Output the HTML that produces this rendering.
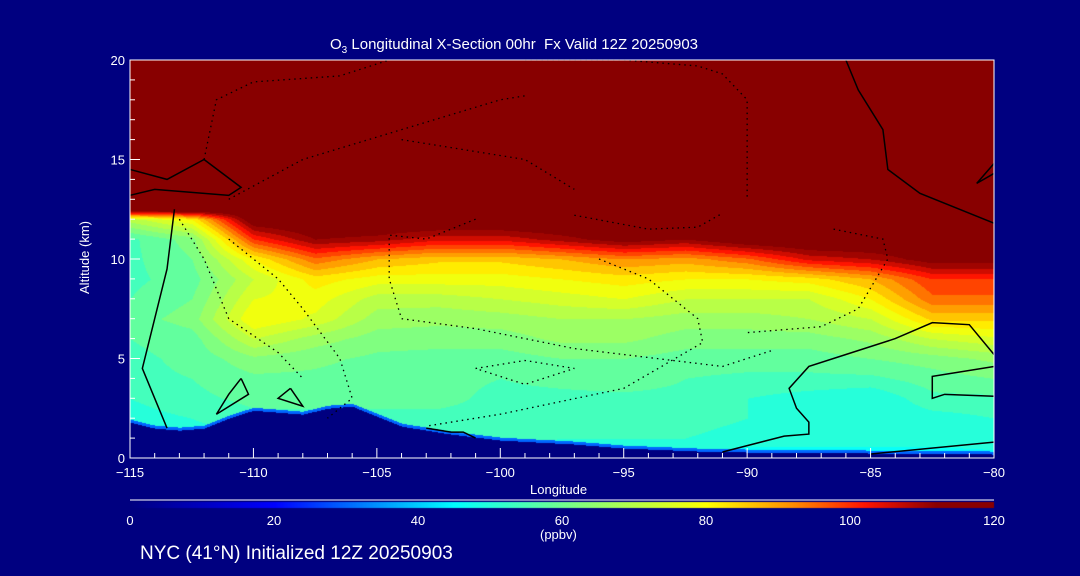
<!DOCTYPE html>
<html><head><meta charset="utf-8">
<style>
html,body{margin:0;padding:0;background:#000080;}
body{width:1080px;height:576px;position:relative;overflow:hidden;font-family:"Liberation Sans",sans-serif;color:#fff;}
.t{position:absolute;white-space:nowrap;font-size:14px;}
</style></head><body>
<div class="t" style="left:330px;top:36px;font-size:15px;">O<sub style="font-size:10px">3</sub> Longitudinal X-Section 00hr&nbsp; Fx Valid 12Z 20250903</div>
<canvas id="cv" width="1080" height="576" style="position:absolute;left:0;top:0"></canvas>
<svg id="sv" width="1080" height="576" style="position:absolute;left:0;top:0"></svg>
<div class="t" style="left:530px;top:482px;font-size:13px;">Longitude</div>
<div class="t" style="left:48px;top:250px;font-size:13px;transform:rotate(-90deg);transform-origin:center;">Altitude (km)</div>
<div class="t" style="left:540px;top:527px;font-size:13px;">(ppbv)</div>
<div class="t" style="left:140px;top:543px;font-size:19px;">NYC (41°N) Initialized 12Z 20250903</div>
<script>
const lons=[-115,-112.5,-110,-107.5,-105,-102.5,-100,-97.5,-95,-92.5,-90,-87.5,-85,-82.5,-80];
const alts=[0,1,2,3,4,5,6,7,8,9,10,11,12,12.5,20];
const o3=[
[48,50,50,50,50,50,50,50,48,48,45,45,45,45,45],
[50,50,50,50,52,53,53,52,52,52,50,50,50,50,52],
[50,52,55,55,55,55,55,54,54,54,52,50,48,50,52],
[52,55,57,57,57,57,55,55,55,55,52,50,48,55,55],
[55,56,59,59,58,57,56,57,58,56,55,55,55,58,60],
[55,57,63,61,59,58,58,60,60,58,58,58,60,62,65],
[56,58,72,66,62,62,62,65,65,62,62,62,65,72,75],
[58,62,80,75,66,65,66,68,68,66,66,68,72,85,85],
[56,60,76,78,70,70,72,74,76,72,72,72,80,95,95],
[55,58,72,82,78,78,78,80,82,80,80,82,88,100,100],
[55,60,80,95,88,85,85,88,92,90,95,105,108,115,115],
[55,62,100,112,110,105,105,110,115,112,118,120,120,120,120],
[70,80,118,120,120,120,120,120,120,120,120,120,120,120,120],
[120,120,120,120,120,120,120,120,120,120,120,120,120,120,120],
[120,120,120,120,120,120,120,120,120,120,120,120,120,120,120]];
const terrLon=[-115,-114,-113,-112,-111,-110,-109,-108,-107,-106,-105,-104,-103,-102,-100,-97,-95,-92,-90,-85,-80];
const terrAlt=[1.8,1.5,1.4,1.5,2.0,2.4,2.3,2.2,2.5,2.6,2.1,1.6,1.4,1.2,0.9,0.7,0.5,0.35,0.3,0.25,0.2];
const xTicks=[-115,-110,-105,-100,-95,-90,-85,-80];
const yTicks=[0,5,10,15,20];
const cbTicks=[0,20,40,60,80,100,120];
const solid0=[[[-91,0.3],[-88.5,1.1],[-87.5,1.2],[-87.5,1.8],[-88,2.5],[-88.3,3.5],[-87.5,4.6],[-86,5.2],[-84,6.0],[-82.5,6.8],[-81,6.7],[-80,5.2]],
[[-80,3.1],[-82,3.2],[-82.5,3.0],[-82.5,4.1],[-80,4.6]],
[[-85,0.2],[-80,0.8]],
[[-86,20],[-85.5,18.5],[-84.5,16.5],[-84.3,14.5],[-83,13.3],[-80,11.8]],
[[-80,14.3],[-80.7,13.8],[-80,14.8]],
[[-115,14.5],[-113.5,14],[-112,15],[-110.5,13.6],[-111,13.2],[-114,13.5],[-115,13.2]],
[[-113.2,12.5],[-113.5,9.5],[-114,7],[-114.5,4.5],[-114,3],[-113.5,1.5]],
[[-110.5,4.0],[-111,3.2],[-111.5,2.2],[-110.2,3.2],[-110.5,4.0]],
[[-108.5,3.5],[-109,3.0],[-108,2.6],[-108.5,3.5]],
[[-103,1.5],[-102,1.3],[-101.5,1.3],[-101,1.0]]];
const dotted=[[[-112,15],[-111.5,18],[-110,18.9],[-106.5,19.2],[-104.5,20]],
[[-99,20],[-95,20],[-92,19.7],[-91,19.3],[-90,18],[-90,13]],
[[-111,13],[-108,15],[-104,16.5],[-100,18],[-99,18.2]],
[[-104,16],[-99,15],[-97,13.5]],
[[-101,12],[-103,11],[-104.5,11.2],[-104.5,9],[-104,7],[-101,6.5],[-97,5.5],[-91,4.6],[-89,5.4]],
[[-111,11],[-109,9],[-108,7.5],[-106.5,5],[-106,3],[-107,2]],
[[-113,12],[-112,10],[-111,7],[-109,5.3],[-108,4]],
[[-96,10],[-94,9],[-92,7],[-91.8,5.8],[-95,3.5],[-100,2.2],[-103,1.6]],
[[-97,12.2],[-94,11.5],[-92,11.6],[-91,12.3]],
[[-86.5,11.5],[-84.5,11],[-84.3,10],[-85.5,7.5],[-87,6.6],[-90,6.3]],
[[-101,4.5],[-99,4.9],[-97,4.5],[-99,3.7],[-101,4.5]]];

const X0=130,X1=994,Y0=458,Y1=60;
const xs=l=>X0+(l+115)/35*(X1-X0);
const ys=a=>Y0-a/20*(Y0-Y1);
const stops=[[0,[0,0,128]],[20,[0,0,255]],[45,[0,255,255]],[62,[128,255,128]],[80,[255,255,0]],[92,[255,140,0]],[102,[255,20,0]],[112,[136,0,0]],[120,[136,0,0]]];
function cmap(v){v=Math.max(0,Math.min(120,v));for(let i=1;i<stops.length;i++){if(v<=stops[i][0]){const a=stops[i-1],b=stops[i],t=(v-a[0])/(b[0]-a[0]);return a[1].map((c,k)=>Math.round(c+(b[1][k]-c)*t));}}return stops[stops.length-1][1];}
function idx(arr,v){for(let i=0;i<arr.length-1;i++)if(v<=arr[i+1])return [i,(v-arr[i])/(arr[i+1]-arr[i])];return [arr.length-2,1];}
function val(l,a){const [i,ti]=idx(lons,l),[j,tj]=idx(alts,a);return (o3[j][i]*(1-ti)+o3[j][i+1]*ti)*(1-tj)+(o3[j+1][i]*(1-ti)+o3[j+1][i+1]*ti)*tj;}
function terr(l){const [i,t]=idx(terrLon,l);return terrAlt[i]*(1-t)+terrAlt[i+1]*t;}
const cv=document.getElementById('cv'),ctx=cv.getContext('2d');
const img=ctx.createImageData(X1-X0,Y0-Y1);
for(let py=0;py<Y0-Y1;py++){const a=(Y0-Y1-py)/(Y0-Y1)*20;for(let px=0;px<X1-X0;px++){const l=-115+px/(X1-X0)*35;let v;const tg=terr(l);
if(a<tg)v=0;else if(a<tg+0.15)v=30;else{v=val(l,a);v=Math.floor(v/4)*4+2;}
const c=cmap(v);const k=(py*(X1-X0)+px)*4;img.data[k]=c[0];img.data[k+1]=c[1];img.data[k+2]=c[2];img.data[k+3]=255;}}
ctx.putImageData(img,X0,Y1);
for(let px=0;px<X1-X0;px++){ctx.fillStyle='rgb('+cmap(px/(X1-X0)*120).join(',')+')';ctx.fillRect(X0+px,502,1,6);}
const NS='http://www.w3.org/2000/svg',sv=document.getElementById('sv');
function el(t,at,parent){const e=document.createElementNS(NS,t);for(const k in at)e.setAttribute(k,at[k]);(parent||sv).appendChild(e);return e;}
solid0.forEach(ln=>{const p=el('polyline',{points:ln.map(q=>xs(q[0])+','+ys(q[1])).join(' '),fill:'none',stroke:'#000','stroke-width':1.5});

});
dotted.forEach(ln=>{const p=el('polyline',{points:ln.map(q=>xs(q[0])+','+ys(q[1])).join(' '),fill:'none',stroke:'#000','stroke-width':1.3,'stroke-dasharray':'1.5 4'});

});
const fr=el('rect',{x:X0,y:Y1,width:X1-X0,height:Y0-Y1,fill:'none',stroke:'#fff','stroke-width':1});


for(let l=-115;l<=-80;l++){const big=l%5===0;el('line',{x1:xs(l),x2:xs(l),y1:Y0,y2:Y0-(big?10:5),stroke:'#fff'});}
xTicks.forEach(l=>{const t=el('text',{x:xs(l),y:Y0+19,fill:'#fff','font-size':13,'text-anchor':'middle','font-family':'Liberation Sans'});t.textContent='\u2212'+Math.abs(l);

});
for(let a=0;a<=20;a++){const big=a%5===0;el('line',{x1:X0,x2:X0+(big?10:5),y1:ys(a),y2:ys(a),stroke:'#fff'});}
yTicks.forEach(a=>{const t=el('text',{x:X0-5,y:ys(a)+5,fill:'#fff','font-size':13,'text-anchor':'end','font-family':'Liberation Sans'});t.textContent=a;

});
el('line',{x1:X0,x2:X1,y1:500,y2:500,stroke:'#fff'});
cbTicks.forEach(v=>{const t=el('text',{x:X0+v/120*(X1-X0),y:525,fill:'#fff','font-size':13,'text-anchor':'middle','font-family':'Liberation Sans'});t.textContent=v;

});
</script>
</body></html>
